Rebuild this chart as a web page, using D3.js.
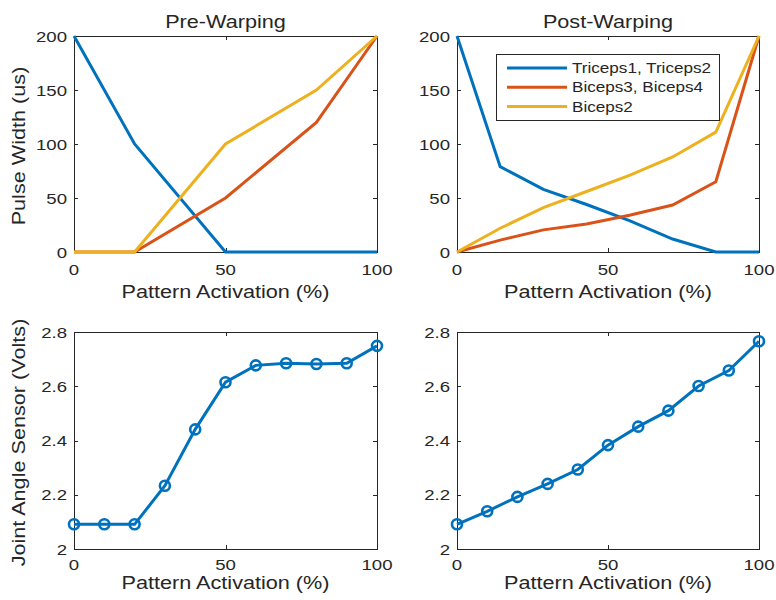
<!DOCTYPE html>
<html>
<head>
<meta charset="utf-8">
<script src="https://cdn.jsdelivr.net/npm/d3@7"></script>
<style>
  html, body { margin: 0; padding: 0; background: #fff; }
  text { font-family: "Liberation Sans", Arial, Helvetica, sans-serif; fill: #262626; }
</style>
</head>
<body>
<svg id="chart" width="776" height="600"></svg>
<script>
// ---------- DATA ----------
const seriesNames = ["Triceps1, Triceps2", "Biceps3, Biceps4", "Biceps2"];
const seriesColors = ["#0072BD", "#D95319", "#EDB120"];

const preX = [0, 20, 50, 80, 100];
const preTriceps = [200, 100, 0, 0, 0];
const preBiceps34 = [0, 0, 50, 120, 200];
const preBiceps2 = [0, 0, 100, 150, 200];

const postX = [0, 14.3, 28.6, 42.9, 57.1, 71.4, 85.7, 100];
const postTriceps = [200, 79, 58, 44, 29, 12, 0, 0];
const postBiceps34 = [0, 11, 20.5, 26, 34, 43.5, 65, 200];
const postBiceps2 = [0, 22, 41, 56, 71, 88, 111, 200];

const activation = [0, 10, 20, 30, 40, 50, 60, 70, 80, 90, 100];
const preSensor = [2.091, 2.091, 2.091, 2.233, 2.441, 2.615, 2.677, 2.685, 2.682, 2.685, 2.749];
const postSensor = [2.091, 2.139, 2.192, 2.240, 2.293, 2.383, 2.451, 2.510, 2.601, 2.658, 2.766];

const xTicks = [0, 50, 100];
const pwTicks = [0, 50, 100, 150, 200];
const voltTicks = [2, 2.2, 2.4, 2.6, 2.8];

const titles = ["Pre-Warping", "Post-Warping"];
const xLabel = "Pattern Activation (%)";
const yLabelTop = "Pulse Width (us)";
const yLabelBottom = "Joint Angle Sensor (Volts)";

// ---------- LAYOUT ----------
const svg = d3.select("#chart");
const AX = "#262626";
const SX = 1.17; // horizontal text stretch seen in the reference

function stretchedText(parent, x, y, str, size, anchor, rot, sx) {
  const t = parent.append("text")
    .attr("transform", `translate(${x},${y})` + (rot ? ` rotate(${rot})` : "") + ` scale(${sx || SX},1)`)
    .attr("font-size", size)
    .attr("text-anchor", anchor)
    .text(str);
  return t;
}

function panel(box, yDomain, yTickVals, yFmt, opts) {
  const x = d3.scaleLinear().domain([0, 100]).range([box.x0, box.x1]);
  const y = d3.scaleLinear().domain(yDomain).range([box.y1, box.y0]);
  const g = svg.append("g");

  // box
  g.append("rect").attr("x", box.x0).attr("y", box.y0)
    .attr("width", box.x1 - box.x0).attr("height", box.y1 - box.y0)
    .attr("fill", "none").attr("stroke", AX).attr("stroke-width", 1).attr("shape-rendering", "crispEdges");

  const tl = 4;
  // x ticks (inward, bottom and top)
  xTicks.forEach(v => {
    const px = Math.round(x(v)) + 0.5;
    g.append("line").attr("x1", px).attr("x2", px).attr("y1", box.y1).attr("y2", box.y1 - tl).attr("stroke", AX);
    g.append("line").attr("x1", px).attr("x2", px).attr("y1", box.y0).attr("y2", box.y0 + tl).attr("stroke", AX);
    stretchedText(g, x(v), opts.xTickBase, String(v), 15.5, "middle", 0, 1.2);
  });
  // y ticks (inward, left and right)
  yTickVals.forEach(v => {
    const py = Math.round(y(v)) + 0.5;
    g.append("line").attr("x1", box.x0).attr("x2", box.x0 + tl).attr("y1", py).attr("y2", py).attr("stroke", AX);
    g.append("line").attr("x1", box.x1).attr("x2", box.x1 - tl).attr("y1", py).attr("y2", py).attr("stroke", AX);
    stretchedText(g, box.x0 - 7, y(v) + 5.5, yFmt(v), 15.5, "end", 0, 1.2);
  });

  // x label
  stretchedText(g, (box.x0 + box.x1) / 2, opts.xLabelBase, xLabel, 18.5, "middle", 0);
  if (opts.title) stretchedText(g, (box.x0 + box.x1) / 2, box.y0 - 8, opts.title, 18.5, "middle", 0);
  if (opts.yLabel) stretchedText(g, opts.yLabelX, (box.y0 + box.y1) / 2 + 2, opts.yLabel, 18.5, "middle", -90);

  return { g, x, y };
}

const fmtInt = d => String(d);
const fmtVolt = d => d === 2 ? "2" : d.toFixed(1);

const boxes = {
  tl: { x0: 74, x1: 377, y0: 36, y1: 252 },
  tr: { x0: 457, x1: 759, y0: 36, y1: 252 },
  bl: { x0: 74, x1: 377, y0: 332, y1: 549 },
  br: { x0: 457, x1: 759, y0: 332, y1: 549 }
};

function drawLines(p, xs, seriesList) {
  seriesList.forEach((vals, i) => {
    const line = d3.line().x((d, k) => p.x(xs[k])).y(d => p.y(d));
    p.g.append("path").datum(vals).attr("d", line)
      .attr("fill", "none").attr("stroke", seriesColors[i]).attr("stroke-width", 3)
      .attr("stroke-linejoin", "miter").attr("stroke-linecap", "butt");
  });
}

function drawMarkers(p, xs, vals) {
  const line = d3.line().x((d, k) => p.x(xs[k])).y(d => p.y(d));
  p.g.append("path").datum(vals).attr("d", line)
    .attr("fill", "none").attr("stroke", seriesColors[0]).attr("stroke-width", 3);
  p.g.selectAll("circle.m").data(vals).enter().append("circle")
    .attr("cx", (d, k) => p.x(xs[k])).attr("cy", d => p.y(d)).attr("r", 5)
    .attr("fill", "none").attr("stroke", seriesColors[0]).attr("stroke-width", 2.6);
}

// Top-left
const pTL = panel(boxes.tl, [0, 200], pwTicks, fmtInt,
  { title: titles[0], yLabel: yLabelTop, yLabelX: 25, xTickBase: 275, xLabelBase: 298 });
drawLines(pTL, preX, [preTriceps, preBiceps34, preBiceps2]);

// Top-right
const pTR = panel(boxes.tr, [0, 200], pwTicks, fmtInt,
  { title: titles[1], xTickBase: 275, xLabelBase: 298 });
drawLines(pTR, postX, [postTriceps, postBiceps34, postBiceps2]);

// Legend
const lg = svg.append("g");
lg.append("rect").attr("x", 496.5).attr("y", 54.5).attr("width", 223).attr("height", 66)
  .attr("fill", "#fff").attr("stroke", AX).attr("stroke-width", 1);
seriesNames.forEach((name, i) => {
  const yy = 68 + i * 19.3;
  lg.append("line").attr("x1", 507).attr("x2", 567).attr("y1", yy).attr("y2", yy)
    .attr("stroke", seriesColors[i]).attr("stroke-width", 3);
  stretchedText(lg, 572, yy + 5, name, 14.5, "start", 0, 1.18);
});

// Bottom-left
const pBL = panel(boxes.bl, [2, 2.8], voltTicks, fmtVolt,
  { yLabel: yLabelBottom, yLabelX: 24.5, xTickBase: 569.5, xLabelBase: 589 });
drawMarkers(pBL, activation, preSensor);

// Bottom-right
const pBR = panel(boxes.br, [2, 2.8], voltTicks, fmtVolt,
  { xTickBase: 569.5, xLabelBase: 589 });
drawMarkers(pBR, activation, postSensor);
</script>
</body>
</html>
